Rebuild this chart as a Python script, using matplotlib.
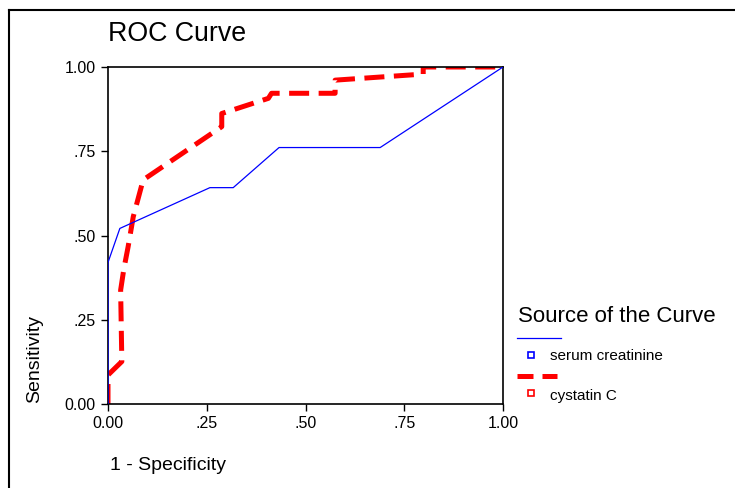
import matplotlib
matplotlib.use('Agg')
import matplotlib.pyplot as plt
from matplotlib.lines import Line2D

plt.rcParams['font.family'] = ['Liberation Sans', 'DejaVu Sans']

# ROC points (1 - specificity, sensitivity)
creat_fpr = [0.0, 0.0, 0.030, 0.258, 0.317, 0.433, 0.689, 1.0]
creat_tpr = [0.0, 0.42, 0.521, 0.642, 0.642, 0.761, 0.761, 1.0]

cyst_fpr = [0.0, 0.0, 0.035, 0.032, 0.040, 0.051, 0.064, 0.089, 0.288, 0.288, 0.406, 0.414, 0.575, 0.575, 0.798, 0.798, 1.0]
cyst_tpr = [0.0, 0.086, 0.126, 0.338, 0.40, 0.467, 0.556, 0.665, 0.823, 0.862, 0.907, 0.922, 0.922, 0.961, 0.979, 1.0, 1.0]

ticks = [0.0, 0.25, 0.5, 0.75, 1.0]
tick_labels = ['0.00', '.25', '.50', '.75', '1.00']
series_names = ['serum creatinine', 'cystatin C']

W, H = 735, 488
fig = plt.figure(figsize=(W / 100, H / 100), dpi=100)
ax = fig.add_axes([108 / W, 1 - 404 / H, (503 - 108) / W, (404 - 67) / H])

ax.plot(creat_fpr, creat_tpr, color='#0000ff', lw=0.9, zorder=3)
ax.plot(cyst_fpr, cyst_tpr, color='#ff0000', lw=3.6, dashes=(4.0, 1.9), zorder=2)

ax.set_xlim(0, 1)
ax.set_ylim(0, 1)
ax.set_xticks(ticks)
ax.set_xticklabels(tick_labels)
ax.set_yticks(ticks)
ax.set_yticklabels(tick_labels)
ax.tick_params(direction='out', length=5, width=1, labelsize=11.5, pad=4)
for s in ax.spines.values():
    s.set_linewidth(1.2)

# outer frame (top and left only)
fig.add_artist(Line2D([9 / W, 1], [1 - 10 / H, 1 - 10 / H], color='black', lw=1.5))
fig.add_artist(Line2D([9 / W, 9 / W], [0, 1 - 10 / H], color='black', lw=1.5))

fig.text(108 / W, 1 - 34 / H, 'ROC Curve', fontsize=19.3, va='center', ha='left')
fig.text(35 / W, 1 - 403 / H, 'Sensitivity', fontsize=14, rotation=90, va='bottom', ha='center')
fig.text(110 / W, 1 - 466 / H, '1 - Specificity', fontsize=14, va='center', ha='left')

# legend
fig.text(518 / W, 1 - 317 / H, 'Source of the Curve', fontsize=16, va='center', ha='left')
fig.add_artist(Line2D([517 / W, 561 / W], [1 - 338 / H, 1 - 338 / H], color='#0000ff', lw=0.9))
fig.add_artist(Line2D([531 / W], [1 - 355 / H], marker='s', ms=4.5, mfc='white', mec='#0000ff', mew=1.2, ls='none'))
fig.text(550 / W, 1 - 356 / H, series_names[0], fontsize=11, va='center', ha='left')
fig.add_artist(Line2D([517 / W, 557 / W], [1 - 376 / H, 1 - 376 / H], color='#ff0000', lw=3.6,
                      dashes=(3.2, 1.8), solid_capstyle='butt', dash_capstyle='butt'))
fig.add_artist(Line2D([531 / W], [1 - 393 / H], marker='s', ms=4.5, mfc='white', mec='#ff0000', mew=1.2, ls='none'))
fig.text(550 / W, 1 - 396 / H, series_names[1], fontsize=11, va='center', ha='left')

fig.savefig('out.png', dpi=100)
